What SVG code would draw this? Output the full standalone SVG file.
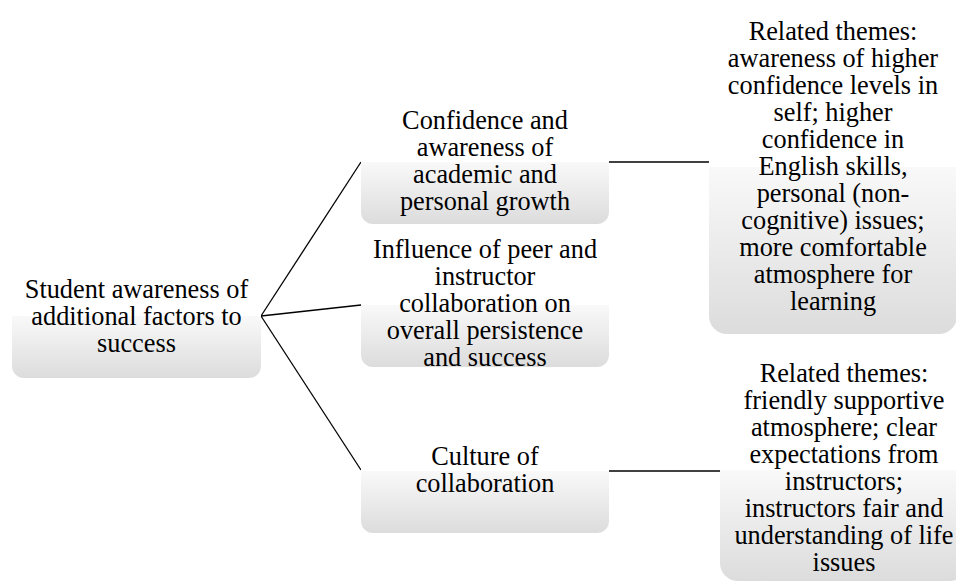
<svg xmlns="http://www.w3.org/2000/svg" width="956" height="583" viewBox="0 0 956 583">
<defs>
<linearGradient id="g" x1="0" y1="0" x2="0" y2="1">
<stop offset="0" stop-color="#ffffff"/>
<stop offset="0.5" stop-color="#ffffff"/>
<stop offset="0.5" stop-color="#f9f9f9"/>
<stop offset="1" stop-color="#dcdcdc"/>
</linearGradient>
<style>
.box{fill:url(#g);stroke:none}
.t{font-family:"Liberation Serif","Times New Roman",serif;font-size:26.3px;fill:#000;text-anchor:middle}
.c{stroke:#000;stroke-width:1.3;fill:none}
</style>
</defs>
<rect x="0" y="0" width="956" height="583" fill="#fff"/>
<g id="connectors">
<line class="c" x1="261" y1="316" x2="361" y2="162"/>
<line class="c" x1="261" y1="316" x2="361" y2="305"/>
<line class="c" x1="261" y1="316" x2="361" y2="470"/>
<line class="c" x1="609" y1="162" x2="709" y2="162"/>
<line class="c" x1="609" y1="471" x2="720" y2="471"/>
</g>
<g id="root">
<rect class="box" x="12" y="254" width="249" height="124" rx="12"/>
<text class="t"><tspan x="136.5" y="298">Student awareness of</tspan><tspan x="136.5" y="325">additional factors to</tspan><tspan x="136.5" y="352">success</tspan></text>
</g>
<g id="confidence">
<rect class="box" x="361" y="100" width="248" height="124" rx="12"/>
<text class="t"><tspan x="485" y="129">Confidence and</tspan><tspan x="485" y="156">awareness of</tspan><tspan x="485" y="183">academic and</tspan><tspan x="485" y="210">personal growth</tspan></text>
</g>
<g id="influence">
<rect class="box" x="361" y="243" width="248" height="124" rx="12"/>
<text class="t"><tspan x="485" y="258">Influence of peer and</tspan><tspan x="485" y="285">instructor</tspan><tspan x="485" y="312">collaboration on</tspan><tspan x="485" y="339">overall persistence</tspan><tspan x="485" y="366">and success</tspan></text>
</g>
<g id="culture">
<rect class="box" x="361" y="409" width="248" height="124" rx="12"/>
<text class="t"><tspan x="485" y="465">Culture of</tspan><tspan x="485" y="492">collaboration</tspan></text>
</g>
<g id="themes1">
<rect class="box" x="709" y="0" width="248" height="334" rx="18"/>
<text class="t"><tspan x="833" y="40">Related themes:</tspan><tspan x="833" y="67">awareness of higher</tspan><tspan x="833" y="94">confidence levels in</tspan><tspan x="833" y="121">self; higher</tspan><tspan x="833" y="148">confidence in</tspan><tspan x="833" y="175">English skills,</tspan><tspan x="833" y="202">personal (non-</tspan><tspan x="833" y="229">cognitive) issues;</tspan><tspan x="833" y="256">more comfortable</tspan><tspan x="833" y="283">atmosphere for</tspan><tspan x="833" y="310">learning</tspan></text>
</g>
<g id="themes2">
<rect class="box" x="720" y="359" width="248" height="222" rx="18"/>
<text class="t"><tspan x="844" y="382">Related themes:</tspan><tspan x="844" y="409">friendly supportive</tspan><tspan x="844" y="436">atmosphere; clear</tspan><tspan x="844" y="463">expectations from</tspan><tspan x="844" y="490">instructors;</tspan><tspan x="844" y="517">instructors fair and</tspan><tspan x="844" y="544">understanding of life</tspan><tspan x="844" y="571">issues</tspan></text>
</g>
</svg>
